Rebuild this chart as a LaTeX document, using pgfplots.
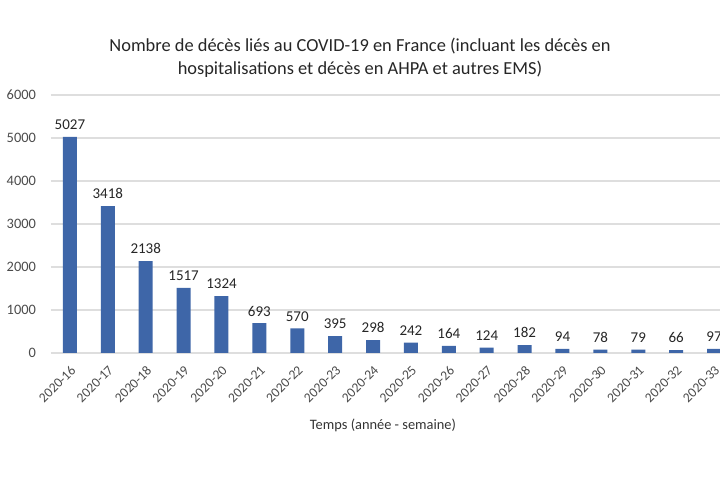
\documentclass[border=0pt]{standalone}
\usepackage{fontspec}
\setmainfont{Carlito}
\usepackage{pgfplots}
\pgfplotsset{compat=1.18}
\definecolor{barblue}{RGB}{62,102,168}
\definecolor{txtgray}{RGB}{75,75,75}
\definecolor{gridgray}{RGB}{222,222,222}

\begin{document}
\begin{tikzpicture}
\useasboundingbox (0,0) rectangle (360pt,240pt);
\clip (0,0) rectangle (360pt,240pt);
\begin{axis}[
    at={(25.5pt,63.5pt)}, anchor=south west,
    scale only axis,
    width=341pt, height=129pt,
    ybar, bar width=7pt,
    xmin=-0.5, xmax=17.5,
    ymin=0, ymax=6000,
    xtick=data,
    xticklabels={2020-16,2020-17,2020-18,2020-19,2020-20,2020-21,2020-22,2020-23,2020-24,2020-25,2020-26,2020-27,2020-28,2020-29,2020-30,2020-31,2020-32,2020-33},
    ytick={0,1000,...,6000},
    /pgf/number format/assume math mode=true,
    scaled y ticks=false,
    yticklabel={\pgfmathprintnumber[1000 sep={}]{\tick}\hspace*{4pt}},
    yticklabel style={font=\fontsize{7.2}{8}\selectfont, text=txtgray, anchor=east},
    xticklabel style={rotate=45, anchor=north east, font=\fontsize{6.8}{8}\selectfont, text=txtgray, inner sep=1pt},
    ymajorgrids, grid style={gridgray, line width=0.6pt},
    axis line style={draw=none},
    tick style={draw=none},
    nodes near coords,
    nodes near coords style={font=\fontsize{7.5}{8}\selectfont, text=black!85, /pgf/number format/1000 sep={}},
    clip=false,
]
\addplot[fill=barblue, draw=none] coordinates {
    (0,5027) (1,3418) (2,2138) (3,1517) (4,1324) (5,693) (6,570) (7,395) (8,298)
    (9,242) (10,164) (11,124) (12,182) (13,94) (14,78) (15,79) (16,66) (17,97)};
\end{axis}
\node[align=center, font=\fontsize{9.2}{11.5}\selectfont, text=black!85] at (180pt,211pt)
    {Nombre de décès liés au COVID-19 en France (incluant les décès en\\hospitalisations et décès en AHPA et autres EMS)};
\node[font=\fontsize{7.2}{8}\selectfont, text=black!80] at (191.5pt,27.5pt) {Temps (année - semaine)};
\end{tikzpicture}
\end{document}
